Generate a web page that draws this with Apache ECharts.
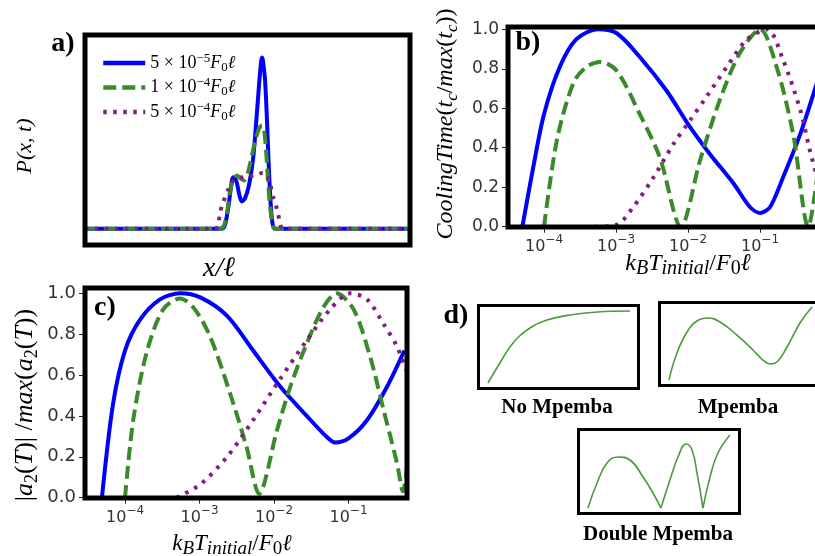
<!DOCTYPE html>
<html>
<head>
<meta charset="utf-8">
<script src="https://cdn.jsdelivr.net/npm/echarts@6/dist/echarts.min.js"></script>
<style>
html, body { margin: 0; padding: 0; background: #fff; }
#chart { width: 815px; height: 556px; }
</style>
</head>
<body>
<div id="chart"></div>
<script>
/*--- data ---*/
var seriesNames = ['5 × 10⁻⁵F₀ℓ', '1 × 10⁻⁴F₀ℓ', '5 × 10⁻⁴F₀ℓ'];
var legendRich = ['{n|5 × 10}{p|−5}{i|F}{u|0}{i|ℓ}', '{n|1 × 10}{p|−4}{i|F}{u|0}{i|ℓ}', '{n|5 × 10}{p|−4}{i|F}{u|0}{i|ℓ}'];
var tickExps = [-4, -3, -2, -1];
var yTicks = [0, 0.2, 0.4, 0.6, 0.8, 1.0];

// a) P(x,t) against x/l (arbitrary x units)
var aBlueX = [-10, -1.6, -1.4, -1.2, -1.0, -0.9, -0.7, -0.5, -0.35, -0.15, 0.09, 0.34, 0.52, 0.71, 0.83, 0.89, 0.95, 1.08, 1.2, 1.32, 1.45, 1.57, 1.75, 10];
var aBlueY = [0, 0, 0.02, 0.12, 0.27, 0.32, 0.3, 0.21, 0.17, 0.19, 0.27, 0.43, 0.64, 0.89, 1.03, 1.06, 1.04, 0.92, 0.67, 0.36, 0.12, 0.02, 0, 0];
var aGreenX = [-10, -1.69, -1.45, -1.26, -1.08, -0.89, -0.65, -0.46, -0.22, 0.03, 0.28, 0.52, 0.71, 0.89, 1.02, 1.14, 1.26, 1.38, 1.51, 1.69, 10];
var aGreenY = [0, 0, 0.02, 0.1, 0.23, 0.3, 0.33, 0.315, 0.3, 0.35, 0.46, 0.56, 0.62, 0.64, 0.61, 0.49, 0.3, 0.15, 0.05, 0, 0];
var aPurpleX = [-10, -2.0, -1.82, -1.69, -1.51, -1.2, -0.77, -0.28, 0.46, 0.89, 1.14, 1.38, 1.57, 1.82, 2.0, 2.18, 10];
var aPurpleY = [0, 0, 0.02, 0.1, 0.16, 0.24, 0.31, 0.32, 0.33, 0.345, 0.34, 0.28, 0.2, 0.12, 0.04, 0, 0];

// b) cooling time, x = log10(kT/F0 l)
var bBlueX = [-4.3, -4.15, -4.0, -3.78, -3.55, -3.25, -2.99, -2.67, -2.3, -2.0, -1.7, -1.37, -1.14, -1.0, -0.86, -0.68, -0.44, -0.26, -0.2];
var bBlueY = [0, 0.3, 0.57, 0.81, 0.95, 1.0, 0.98, 0.86, 0.69, 0.52, 0.37, 0.22, 0.1, 0.07, 0.1, 0.25, 0.47, 0.67, 0.74];
var bGreenX = [-4.0, -3.82, -3.59, -3.41, -3.22, -2.99, -2.67, -2.39, -2.1, -1.83, -1.56, -1.28, -1.0, -0.77, -0.54, -0.33, -0.2];
var bGreenY = [0, 0.44, 0.73, 0.81, 0.835, 0.79, 0.57, 0.35, 0, 0.34, 0.64, 0.88, 1.0, 0.81, 0.47, 0, 0.27];
var bPurpleX = [-3.29, -2.99, -2.76, -2.48, -2.2, -1.97, -1.74, -1.46, -1.18, -0.9, -0.68, -0.44, -0.31, -0.2];
var bPurpleY = [0, 0.01, 0.1, 0.25, 0.42, 0.54, 0.66, 0.81, 0.95, 1.0, 0.845, 0.59, 0.39, 0.24];

// c) |a2(T)| / max(a2(T))
var cBlueX = [-4.31, -4.16, -4.0, -3.8, -3.53, -3.26, -2.99, -2.63, -2.28, -1.92, -1.56, -1.3, -1.18, -1.0, -0.75, -0.48, -0.25];
var cBlueY = [0, 0.46, 0.72, 0.87, 0.97, 1.0, 0.98, 0.89, 0.72, 0.545, 0.4, 0.3, 0.27, 0.29, 0.38, 0.545, 0.72];
var cGreenX = [-4.0, -3.89, -3.71, -3.49, -3.26, -3.08, -2.86, -2.59, -2.37, -2.2, -1.96, -1.78, -1.56, -1.34, -1.16, -0.93, -0.71, -0.53, -0.35, -0.27, -0.2];
var cGreenY = [0, 0.38, 0.71, 0.92, 0.975, 0.93, 0.79, 0.51, 0.25, 0.02, 0.33, 0.545, 0.755, 0.93, 1.0, 0.92, 0.69, 0.43, 0.17, 0.03, 0.2];
var cPurpleX = [-3.31, -2.99, -2.63, -2.28, -1.92, -1.56, -1.25, -0.98, -0.75, -0.53, -0.35, -0.2];
var cPurpleY = [0, 0.065, 0.2, 0.38, 0.58, 0.77, 0.92, 1.0, 0.97, 0.85, 0.74, 0.6];

// d) sketches, 0..100 inside each box
var dNoX = [5.9, 13.4, 21.6, 32.2, 42.8, 57.2, 74.1, 94.7];
var dNoY = [6.6, 30.7, 54.8, 72.9, 82.5, 88.6, 92.2, 93.4];
var dOneX = [5.9, 10.9, 17.2, 23.4, 30.3, 37.8, 48.4, 58.4, 64.7, 69.1, 73.4, 79.7, 87.8, 95.3];
var dOneY = [6.6, 39.2, 64.5, 77.7, 81.3, 76.5, 60.8, 42.8, 30.7, 25.9, 28.3, 46.4, 75.3, 94.6];
var dTwoX = [5.9, 11.5, 17.7, 24.5, 32.0, 40.1, 46.3, 51.2, 56.8, 61.8, 66.8, 70.5, 73.6, 77.3, 81.7, 86.6, 94.1];
var dTwoY = [6.5, 36.3, 60.1, 67.3, 63.7, 43.5, 24.4, 6.5, 39.9, 67.3, 82.7, 75.6, 48.2, 6.5, 43.5, 72.0, 93.5];
var dTwoCusps = [7, 13];

/*--- styles ---*/
var serif = "'Liberation Serif', 'Times New Roman', serif";
var sans = "'DejaVu Sans', sans-serif";
var colors = ['#0000ff', '#3a8a2c', '#7f1f80'];
var lineStyles = [
	{ color: colors[0], width: 4, type: 'solid' },
	{ color: colors[1], width: 4, type: [13, 6] },
	{ color: colors[2], width: 4, type: [3.5, 6.5] }
];

function pairs(xs, ys) {
	return xs.map(function(x, i) { return [x, ys[i]]; });
}

var series = [];
var panelData = [
	[[aBlueX, aBlueY], [aGreenX, aGreenY], [aPurpleX, aPurpleY]],
	[[bBlueX, bBlueY], [bGreenX, bGreenY], [bPurpleX, bPurpleY]],
	[[cBlueX, cBlueY], [cGreenX, cGreenY], [cPurpleX, cPurpleY]]
];
panelData.forEach(function(sets, g) {
	sets.forEach(function(s, k) {
		series.push({
			name: seriesNames[k],
			type: 'line',
			xAxisIndex: g,
			yAxisIndex: g,
			data: pairs(s[0], s[1]),
			symbol: 'none',
			smooth: 0.3,
			lineStyle: lineStyles[k],
			itemStyle: { color: colors[k] },
			z: 3
		});
	});
});

function sketch(g, xs, ys) {
	series.push({
		type: 'line',
		xAxisIndex: g,
		yAxisIndex: g,
		data: pairs(xs, ys),
		symbol: 'none',
		smooth: 0.45,
		lineStyle: { color: '#4b9a3b', width: 1.6 },
		z: 3
	});
}
sketch(3, dNoX, dNoY);
sketch(4, dOneX, dOneY);
// double mpemba: split at the cusps so they stay sharp
var cut = [0].concat(dTwoCusps, [dTwoX.length - 1]);
for (var i = 0; i < cut.length - 1; i++) {
	sketch(5, dTwoX.slice(cut[i], cut[i + 1] + 1), dTwoY.slice(cut[i], cut[i + 1] + 1));
}

/*--- axes ---*/
var expRich = {
	m: { fontFamily: sans, fontSize: 16, lineHeight: 26, color: '#333' },
	e: { fontFamily: sans, fontSize: 12, verticalAlign: 'top', color: '#333' }
};
function expLabel(v) {
	return '{m|10}{e|−' + Math.abs(Math.round(v)) + '}';
}
function logAxis(g, min, max) {
	return {
		gridIndex: g, type: 'value', min: min, max: max,
		axisLine: { show: false },
		splitLine: { show: false },
		axisTick: { show: true, customValues: tickExps, length: 6, lineStyle: { color: '#222', width: 1 } },
		axisLabel: { customValues: tickExps, margin: 7, formatter: expLabel, rich: expRich }
	};
}
function fracAxis(g, min, max, size) {
	return {
		gridIndex: g, type: 'value', min: min, max: max,
		axisLine: { show: false },
		splitLine: { show: false },
		axisTick: { show: true, customValues: yTicks, length: 6, lineStyle: { color: '#222', width: 1 } },
		axisLabel: {
			customValues: yTicks, margin: 9, color: '#333', fontFamily: sans, fontSize: size,
			formatter: function(v) { return v.toFixed(1); }
		}
	};
}
function hiddenAxis(g, min, max) {
	return { gridIndex: g, type: 'value', min: min, max: max, show: false, splitLine: { show: false } };
}

function grid(l, t, w, h, bw) {
	return { left: l, top: t, width: w, height: h, show: true, borderColor: '#000', borderWidth: bw, backgroundColor: 'transparent', z: 5, containLabel: false, outerBoundsMode: 'none' };
}

/*--- texts ---*/
function txt(x, y, style, rot) {
	return {
		type: 'text', x: x, y: y, rotation: rot || 0, z: 10,
		style: Object.assign({ align: 'center', verticalAlign: 'middle', textAlign: 'center', textVerticalAlign: 'middle', fill: '#000' }, style)
	};
}
function mathRich(main, sub) {
	return {
		i: { fontFamily: serif, fontStyle: 'italic', fontSize: main, lineHeight: main + 6, color: '#000' },
		n: { fontFamily: serif, fontSize: main, lineHeight: main + 6, color: '#000' },
		s: { fontFamily: serif, fontStyle: 'italic', fontSize: sub, verticalAlign: 'bottom', color: '#000' },
		u: { fontFamily: serif, fontSize: sub, verticalAlign: 'bottom', color: '#000' }
	};
}
var panelFont = "bold 28px 'Liberation Serif'";
var capFont = "bold 21px 'Liberation Serif'";
var xLabel = '{i|k}{s|B}{i|T}{s|initial}{n|/}{i|F}{u|0}{i|ℓ}';

var graphics = [
	txt(63, 44, { text: 'a)', font: panelFont }),
	txt(528, 43, { text: 'b)', font: panelFont }),
	txt(105, 308, { text: 'c)', font: panelFont }),
	txt(456, 316, { text: 'd)', font: panelFont }),
	txt(25, 146, { text: 'P(x, t)', font: "italic 22px 'Liberation Serif'" }, Math.PI / 2),
	txt(219, 269, { text: 'x/ℓ', font: "italic 28px 'Liberation Serif'" }),
	txt(446, 124, { text: '{i|CoolingTime}{n|(}{i|t}{s|c}{n|/}{i|max}{n|(}{i|t}{s|c}{n|))}', rich: mathRich(24, 17) }, Math.PI / 2),
	txt(688, 264, { text: xLabel, rich: mathRich(24, 20) }),
	txt(25, 405, { text: '{n||}{i|a}{u|2}{n|(}{i|T}{n|)| /}{i|max}{n|(}{i|a}{u|2}{n|(}{i|T}{n|))}', rich: mathRich(26, 18) }, Math.PI / 2),
	txt(232, 544, { text: xLabel, rich: mathRich(23, 19) }),
	txt(557, 408, { text: 'No Mpemba', font: capFont }),
	txt(738, 408, { text: 'Mpemba', font: capFont }),
	txt(658, 535, { text: 'Double Mpemba', font: capFont })
];

var myChart = echarts.init(document.getElementById('chart'));
var option = {
	animation: false,
	backgroundColor: '#fff',
	grid: [
		grid(85, 35, 325, 210, 5),
		grid(508, 27, 312, 200, 5),
		grid(85, 288, 322, 210, 5),
		grid(478.5, 305.5, 160, 83, 3),
		grid(659.5, 302.5, 160, 83, 3),
		grid(578.5, 429.5, 161, 84, 3)
	],
	xAxis: [
		hiddenAxis(0, -10, 10),
		logAxis(1, -4.5, -0.167),
		logAxis(2, -4.537, -0.215),
		hiddenAxis(3, 0, 100),
		hiddenAxis(4, 0, 100),
		hiddenAxis(5, 0, 100)
	],
	yAxis: [
		hiddenAxis(0, -0.1, 1.2),
		fracAxis(1, -0.0015, 1.0117, 17),
		fracAxis(2, -0.0015, 1.026, 18),
		hiddenAxis(3, 0, 100),
		hiddenAxis(4, 0, 100),
		hiddenAxis(5, 0, 100)
	],
	legend: {
		data: seriesNames,
		orient: 'vertical',
		left: 96,
		top: 47,
		itemWidth: 42,
		itemHeight: 14,
		itemGap: 2.5,
		itemStyle: { opacity: 0 },
		lineStyle: { width: 4.5 },
		formatter: function(name) { return legendRich[seriesNames.indexOf(name)]; },
		textStyle: {
			rich: {
				n: { fontFamily: serif, fontSize: 18, lineHeight: 22, color: '#000' },
				p: { fontFamily: serif, fontSize: 13, verticalAlign: 'top', color: '#000' },
				i: { fontFamily: serif, fontStyle: 'italic', fontSize: 18, lineHeight: 22, color: '#000' },
				u: { fontFamily: serif, fontSize: 13, verticalAlign: 'bottom', color: '#000' }
			}
		}
	},
	graphic: { elements: graphics },
	series: series
};
myChart.setOption(option);
</script>
</body>
</html>
